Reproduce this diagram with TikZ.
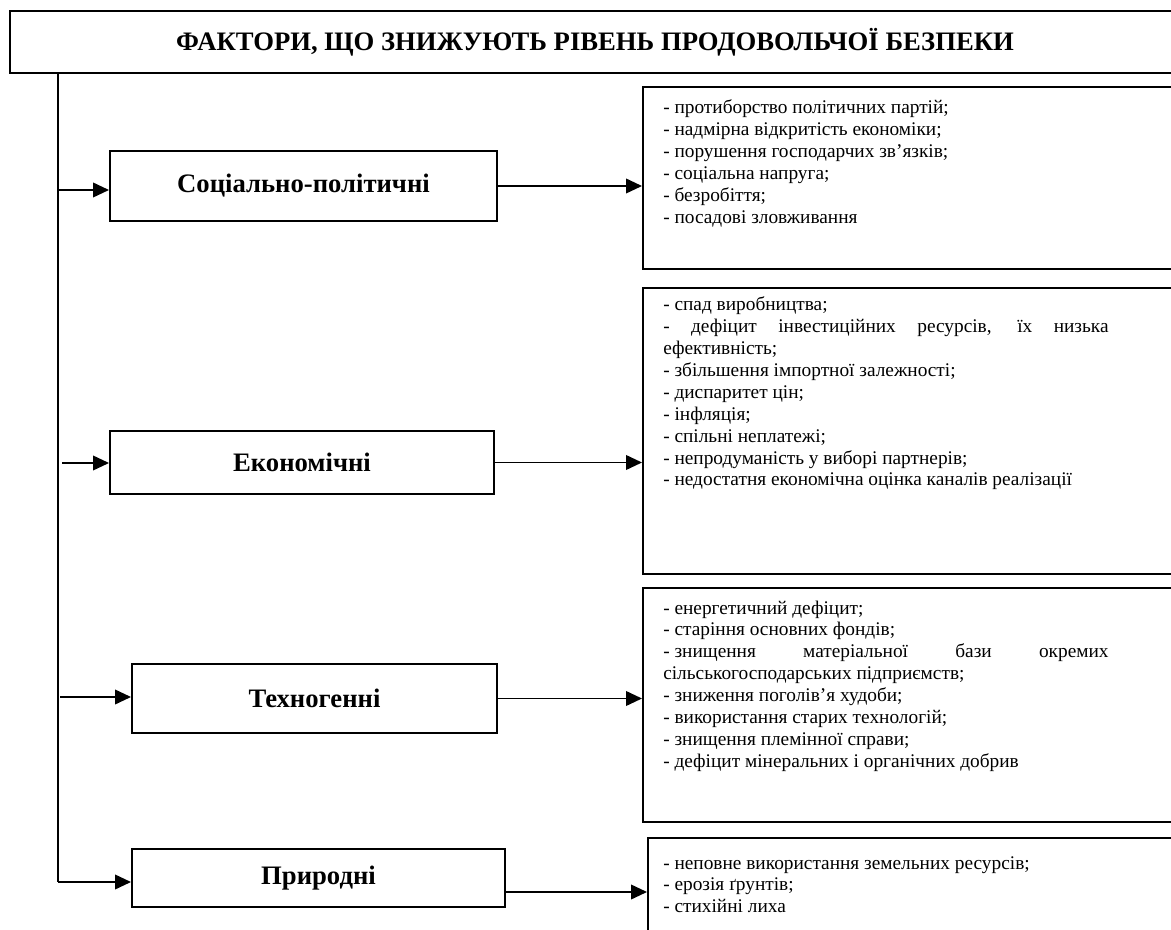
\documentclass[tikz,border=0pt]{standalone}
\usepackage{fontspec}
\setmainfont{Liberation Serif}
\usetikzlibrary{arrows.meta,positioning}
\hyphenpenalty=10000
\exhyphenpenalty=10000

\begin{document}
\begin{tikzpicture}[x=0.75pt,y=-0.75pt,
    factor/.style={draw, line width=1.5pt, inner sep=0pt, font=\bfseries\fontsize{20}{24}\selectfont},
    listbox/.style={draw, line width=1.8pt, inner sep=0pt, anchor=north west},
    listtext/.style={anchor=base west, inner sep=0pt, text width=334pt, align=justify, font=\fontsize{14.5}{16.4}\selectfont},
    link/.style={line width=1.3pt, -{Triangle[length=12pt,width=11pt]}}]
    \clip (0,0) rectangle (1171,930);

    \node[factor, minimum width=877.5pt, minimum height=46.5pt] (title) at (595,42) {ФАКТОРИ, ЩО ЗНИЖУЮТЬ РІВЕНЬ ПРОДОВОЛЬЧОЇ БЕЗПЕКИ};

    \node[factor, minimum width=290.25pt, minimum height=52.5pt] (soc) at (303.5,186) {Соціально-політичні};
    \node[factor, minimum width=288pt, minimum height=47.25pt] (econ) at (302,462.5) {Економічні};
    \node[factor, minimum width=273.75pt, minimum height=51.75pt] (tech) at (314.5,698.5) {Техногенні};
    \node[factor, minimum width=279.75pt, minimum height=43.5pt] (nat) at (318.5,878) {Природні};

    \node[listbox, minimum width=403.5pt, minimum height=136.5pt] (socl) at (642,86) {};
    \node[listbox, minimum width=403.5pt, minimum height=214.5pt] (econl) at (642,287) {};
    \node[listbox, minimum width=403.5pt, minimum height=175.5pt] (techl) at (642,587) {};
    \node[listbox, minimum width=400pt, minimum height=92.25pt] (natl) at (647,837) {};

    \node[listtext] (soct) at ([shift={(21,28)}]socl.north west) {%
        - протиборство політичних партій;\par
        - надмірна відкритість економіки;\par
        - порушення господарчих зв’язків;\par
        - соціальна напруга;\par
        - безробіття;\par
        - посадові зловживання};
    \node[listtext] (econt) at ([shift={(21,24)}]econl.north west) {%
        - спад виробництва;\par
        - дефіцит інвестиційних ресурсів, їх низька ефективність;\par
        - збільшення імпортної залежності;\par
        - диспаритет цін;\par
        - інфляція;\par
        - спільні неплатежі;\par
        - непродуманість у виборі партнерів;\par
        - недостатня економічна оцінка каналів реалізації};
    \node[listtext] (techt) at ([shift={(21,27)}]techl.north west) {%
        - енергетичний дефіцит;\par
        - старіння основних фондів;\par
        \mbox{- знищення} матеріальної бази окремих сільськогосподарських підприємств;\par
        - зниження поголів’я худоби;\par
        - використання старих технологій;\par
        - знищення племінної справи;\par
        - дефіцит мінеральних і органічних добрив};
    \node[listtext] (natt) at ([shift={(16,32)}]natl.north west) {%
        - неповне використання земельних ресурсів;\par
        - ерозія ґрунтів;\par
        - стихійні лиха};

    % trunk from the title
    \coordinate (trunk) at (58,73);
    \coordinate (trunkend) at (58,882);
    \draw[line width=1.3pt] (trunk) -- (trunkend);

    \draw[link] (trunk |- 0,190) -- (soc.west |- 0,190);
    \draw[link] (62,463) -- (econ.west |- 0,463);
    \draw[link] (60,697) -- (tech.west |- 0,697);
    \draw[link] (trunkend) -- (nat.west |- trunkend);

    \draw[link] (soc.east) -- (soc.east -| socl.west);
    \draw[link] (econ.east) -- (econ.east -| econl.west);
    \draw[link] (tech.east) -- (tech.east -| techl.west);
    \draw[link] (nat.east |- 0,892) -- (natl.west |- 0,892);
\end{tikzpicture}
\end{document}
